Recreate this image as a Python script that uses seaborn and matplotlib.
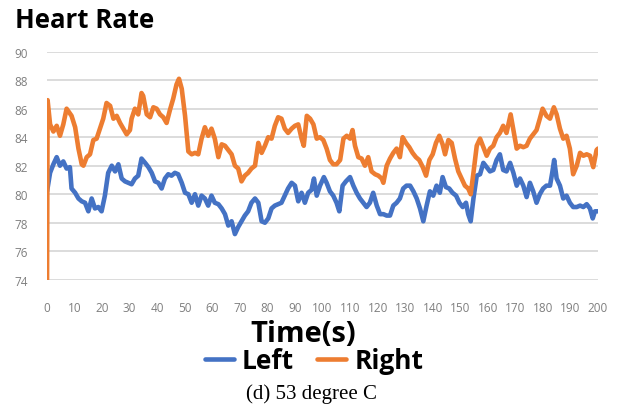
import matplotlib
matplotlib.use("Agg")
import matplotlib.pyplot as plt
import seaborn as sns
import pandas as pd

# Heart rate readings (bpm) against time (s)
left_t = [0, 1.1, 2.3, 3.5, 4.7, 5.9, 7.1, 8.3, 8.9, 10.2, 11.4, 12.6, 13.8, 15.0, 16.2,
          17.4, 18.6, 19.8, 21.0, 22.2, 23.5, 24.7, 25.9, 27.1, 28.3, 29.5, 30.7, 31.9,
          33.1, 34.3, 35.6, 36.8, 38.0, 39.2, 40.4, 41.6, 42.8, 44.0, 45.2, 46.4, 47.6,
          48.9, 50.1, 51.3, 52.5, 53.7, 54.9, 56.1, 57.3, 58.5, 59.7, 60.9, 62.2, 63.4,
          64.6, 65.8, 67.0, 68.2, 69.4, 70.6, 71.8, 73.0, 74.2, 75.5, 76.7, 77.9, 79.1,
          80.3, 81.5, 82.7, 83.9, 85.1, 86.3, 87.5, 88.8, 90.0, 91.2, 92.4, 93.6, 94.8,
          96.0, 96.9, 97.9, 99.1, 100.5, 101.5, 102.7, 103.9, 105.1, 106.1, 107.3, 108.5,
          110.0, 111.2, 112.4, 113.6, 114.8, 116.0, 117.2, 118.4, 119.7, 120.9, 122.1,
          123.3, 124.5, 125.7, 126.9, 128.1, 129.3, 130.5, 131.8, 133.0, 134.2, 135.4,
          136.6, 137.8, 139.0, 140.2, 141.4, 142.6, 143.6, 144.8, 146.0, 147.2, 148.5,
          149.7, 150.9, 152.1, 152.9, 153.8, 154.8, 156.0, 157.2, 158.4, 159.6, 160.8,
          162.0, 163.2, 164.4, 165.6, 166.8, 168.1, 169.3, 170.5, 171.7, 172.9, 174.1,
          175.3, 176.5, 177.7, 178.9, 180.1, 181.3, 182.6, 183.4, 184.1, 185.0, 186.2,
          187.4, 188.6, 189.8, 191.0, 192.3, 193.5, 194.7, 195.9, 197.1, 198.1, 198.9, 200]
left_hr = [80.2, 81.5, 82.1, 82.6, 82.0, 82.3, 81.8, 81.9, 80.4, 80.1, 79.7, 79.5, 79.4, 78.8, 79.7,
           79.0, 79.1, 78.8, 79.9, 81.5, 82.0, 81.6, 82.1, 81.1, 80.9, 80.8, 80.7, 81.1,
           81.3, 82.5, 82.2, 81.9, 81.5, 80.9, 80.8, 80.4, 81.1, 81.4, 81.3, 81.5, 81.4,
           80.8, 80.1, 80.0, 79.4, 80.0, 79.2, 79.9, 79.7, 79.2, 79.9, 79.4, 79.3, 79.0,
           78.6, 77.8, 78.1, 77.2, 77.7, 78.1, 78.5, 78.8, 79.4, 79.7, 79.4, 78.1, 78.0,
           78.3, 79.0, 79.2, 79.3, 79.4, 79.9, 80.4, 80.8, 80.6, 79.5, 80.1, 79.4, 80.1,
           80.3, 81.1, 79.9, 80.6, 81.2, 80.8, 80.2, 79.9, 79.4, 78.8, 80.6, 80.9,
           81.2, 80.6, 80.1, 79.7, 79.4, 79.1, 79.4, 80.1, 79.2, 78.6, 78.6,
           78.5, 78.5, 79.2, 79.4, 79.7, 80.4, 80.6, 80.6, 80.2, 79.7, 79.0,
           78.1, 79.2, 80.2, 79.9, 80.6, 80.1, 81.2, 80.5, 80.4, 80.1, 79.9,
           79.4, 79.1, 79.4, 78.6, 78.1, 79.7, 81.3, 81.4, 82.2, 81.9, 81.6,
           81.7, 82.4, 82.8, 81.7, 81.6, 82.2, 81.5, 80.6, 81.1, 80.6, 79.8,
           80.8, 80.2, 79.4, 80.0, 80.4, 80.6, 80.6, 81.5, 82.4, 81.1, 80.6,
           79.7, 79.9, 79.4, 79.1, 79.1, 79.2, 79.1, 79.3, 79.0, 78.3, 78.8, 78.8]

right_t = [0, 0.2, 1.1, 2.3, 3.5, 4.7, 5.9, 7.1, 8.9, 10.2, 11.4, 12.6, 13.2, 14.4, 15.6,
           16.8, 18.0, 19.2, 20.4, 21.6, 22.9, 24.1, 25.3, 26.5, 27.7, 28.9, 30.1, 30.7,
           31.9, 33.1, 34.3, 34.9, 36.2, 37.4, 38.6, 39.8, 41.0, 42.2, 43.4, 44.6, 45.8,
           47.0, 47.9, 48.9, 50.1, 51.3, 52.5, 53.7, 54.9, 56.1, 57.3, 58.5, 59.7, 60.9,
           62.2, 63.4, 64.6, 65.8, 67.0, 68.2, 69.4, 70.6, 71.8, 73.0, 74.2, 75.5, 76.7,
           77.9, 79.1, 80.3, 81.5, 82.7, 83.9, 85.1, 86.3, 87.5, 88.8, 90.0, 91.2, 92.4,
           93.2, 94.3, 95.5, 96.7, 97.9, 99.1, 100.3, 101.5, 102.7, 103.9, 105.1, 106.4,
           107.6, 108.8, 110.0, 110.9, 111.8, 113.0, 114.2, 115.4, 116.6, 117.8, 119.1,
           120.3, 121.5, 122.1, 123.3, 124.5, 125.7, 126.9, 128.1, 129.1, 130.3, 131.5,
           132.7, 133.9, 135.1, 136.4, 137.6, 138.8, 140.0, 141.2, 142.4, 143.6, 144.5,
           145.7, 146.9, 148.1, 149.3, 150.5, 151.7, 152.9, 153.8, 154.8, 156.0, 157.2,
           158.4, 159.6, 160.8, 162.0, 163.2, 164.4, 165.6, 166.8, 168.3, 169.2, 170.5,
           171.7, 172.9, 174.1, 175.3, 176.5, 177.7, 178.9, 179.9, 181.3, 182.6, 184.0,
           185.0, 186.2, 187.4, 188.6, 189.8, 191.0, 192.3, 193.5, 194.7, 195.9, 197.1,
           198.3, 199.5, 200]
right_hr = [74.0, 86.6, 84.9, 84.4, 84.8, 84.1, 84.9, 86.0, 85.5, 84.7, 83.2, 82.1, 82.0, 82.6, 82.8,
            83.8, 83.9, 84.6, 85.3, 86.4, 86.2, 85.3, 85.5, 85.0, 84.6, 84.2, 84.5, 85.3,
            86.0, 85.6, 87.1, 86.9, 85.6, 85.4, 86.1, 86.0, 85.6, 85.4, 85.0, 85.9, 86.7,
            87.7, 88.1, 87.4, 85.5, 83.0, 82.8, 82.9, 82.8, 83.9, 84.7, 84.1, 84.6, 83.9,
            82.6, 83.5, 83.4, 83.1, 82.8, 82.0, 81.8, 80.9, 81.3, 81.5, 81.8, 82.0, 83.6,
            82.9, 83.4, 84.0, 83.9, 84.8, 85.4, 85.3, 84.6, 84.3, 84.6, 84.8, 84.9, 83.9,
            83.4, 85.5, 85.3, 84.9, 83.9, 84.0, 83.8, 83.2, 82.4, 82.1, 82.1, 82.4,
            83.9, 84.1, 83.9, 84.5, 83.4, 82.6, 82.5, 82.0, 82.6, 81.6, 81.4,
            81.3, 81.1, 80.8, 82.0, 82.5, 82.9, 83.2, 82.6, 84.0, 83.6, 83.3,
            82.9, 82.6, 82.4, 81.9, 81.3, 82.4, 82.8, 83.6, 84.1, 83.5, 82.8,
            83.8, 83.6, 82.5, 81.6, 81.1, 80.6, 80.4, 80.0, 81.5, 83.4, 83.9,
            83.3, 82.7, 83.2, 83.4, 84.0, 84.3, 84.8, 84.3, 85.6, 84.6, 83.2,
            83.4, 83.3, 83.4, 83.9, 84.2, 84.5, 85.3, 86.0, 85.5, 85.3, 86.1,
            85.6, 84.6, 83.9, 84.1, 83.2, 81.4, 82.0, 82.9, 82.7, 82.8, 82.7,
            81.9, 83.1, 83.2]

series_names = ["Left", "Right"]
series_colors = ["#4472C4", "#ED7D31"]
y_ticks = [74, 76, 78, 80, 82, 84, 86, 88, 90]
x_ticks = list(range(0, 201, 10))

df = pd.concat([
    pd.DataFrame({"Time": left_t, "HR": left_hr, "Side": series_names[0]}),
    pd.DataFrame({"Time": right_t, "HR": right_hr, "Side": series_names[1]}),
], ignore_index=True)

sns.set_theme(style="white")
plt.rcParams["font.family"] = ["Open Sans", "DejaVu Sans"]
plt.rcParams["text.color"] = "black"

fig = plt.figure(figsize=(6.19, 4.06), dpi=100)
ax = fig.add_axes([0.076, 0.3086, 0.890, 0.5616])

sns.lineplot(data=df, x="Time", y="HR", hue="Side", palette=series_colors,
             hue_order=series_names, estimator=None, sort=False,
             linewidth=3.3, ax=ax, legend=True)

ax.set_xlim(0, 200)
ax.set_ylim(74, 90)
ax.set_xticks(x_ticks)
ax.set_yticks(y_ticks)
ax.yaxis.grid(True, color="#d9d9d9", linewidth=1.3)
ax.xaxis.grid(False)
ax.set_axisbelow(True)
for s in ax.spines.values():
    s.set_visible(False)
ax.tick_params(axis="both", length=0, labelsize=8.5, labelcolor="#7f7f7f")
ax.tick_params(axis="y", pad=14)
ax.tick_params(axis="x", pad=15)
ax.set_ylabel("")
ax.set_xlabel("Time(s)", fontsize=21, fontweight="bold", color="black", labelpad=4)
ax.xaxis.label.set_x((303 - 47) / 551)

handles, labels = ax.get_legend_handles_labels()
ax.get_legend().remove()
fig.legend(handles, labels, loc="center", bbox_to_anchor=(314 / 619, 1 - 362 / 406),
           ncol=2, frameon=False, handlelength=1.1, columnspacing=0.9,
           handletextpad=0.3, prop={"weight": "bold", "size": 19})

fig.text(15 / 619, 1 - 21 / 406, "Heart Rate", fontsize=18.5, fontweight="bold",
         ha="left", va="center", color="black")
fig.text(311 / 619, 1 - 394 / 406, "(d) 53 degree C", fontsize=15,
         family="Liberation Serif", ha="center", va="center", color="black")

fig.savefig("out.png", dpi=100)
